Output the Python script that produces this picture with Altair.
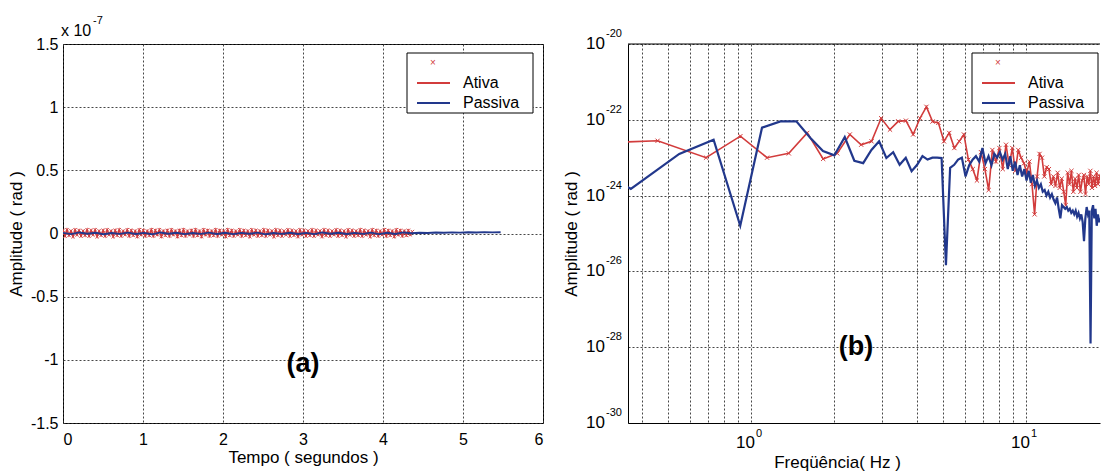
import altair as alt
import pandas as pd

FONT = "Liberation Sans"
RED = "#d23c3c"
BLUE = "#22388c"
GRID = "#333333"

# ---------------- data ----------------
series_names = ["Ativa", "Passiva"]

# panel (a): time signals, amplitude in units of 1e-7 rad
ativa_dt = 0.0251
ativa_amp = [0.025, -0.02, 0.03, -0.015, 0.02, -0.025, 0.03, -0.01, 0.025, -0.02,
             0.02, -0.015, 0.03, -0.02, 0.025, -0.01, 0.03, -0.025, 0.02, -0.015,
             0.025, -0.02, 0.03, -0.01, 0.02, -0.025, 0.025, -0.015, 0.03, -0.02,
             0.02, -0.01, 0.03, -0.02, 0.025, -0.015, 0.02, -0.025, 0.03, -0.01,
             0.025, -0.02, 0.02, -0.015, 0.03, -0.02, 0.025, -0.01, 0.03, -0.025,
             0.02, -0.015, 0.025, -0.02, 0.03, -0.01, 0.02, -0.025, 0.025, -0.015,
             0.03, -0.02, 0.02, -0.01, 0.025, -0.02, 0.03, -0.015, 0.02, -0.025,
             0.03, -0.01, 0.025, -0.02, 0.02, -0.015, 0.03, -0.02, 0.025, -0.01,
             0.02, -0.025, 0.03, -0.015, 0.025, -0.02, 0.02, -0.01, 0.03, -0.02,
             0.025, -0.015, 0.02, -0.025, 0.03, -0.01, 0.025, -0.02, 0.02, -0.015,
             0.03, -0.02, 0.025, -0.01, 0.02, -0.025, 0.03, -0.015, 0.025, -0.02,
             0.02, -0.01, 0.03, -0.02, 0.025, -0.015, 0.02, -0.025, 0.03, -0.01,
             0.025, -0.02, 0.02, -0.015, 0.03, -0.02, 0.025, -0.01, 0.02, -0.025,
             0.03, -0.015, 0.025, -0.02, 0.02, -0.01, 0.03, -0.02, 0.025, -0.015,
             0.02, -0.025, 0.03, -0.01, 0.025, -0.02, 0.02, -0.015, 0.03, -0.02,
             0.025, -0.01, 0.02, -0.025, 0.03, -0.015, 0.025, -0.02, 0.02, -0.01,
             0.03, -0.02, 0.025, -0.015, 0.02, -0.025, 0.03, -0.01, 0.025, -0.02,
             0.02, -0.015, 0.025, -0.01, 0.015]
passiva_dt = 0.1013
passiva_amp = [0.005, -0.005, 0.008, -0.002, 0.006, -0.006, 0.004, -0.003, 0.007, -0.004,
               0.005, -0.006, 0.008, -0.002, 0.006, -0.005, 0.004, -0.003, 0.007, -0.004,
               0.006, -0.005, 0.005, -0.002, 0.007, -0.006, 0.004, -0.003, 0.006, -0.004,
               0.005, -0.005, 0.008, -0.002, 0.006, -0.004, 0.005, -0.003, 0.007, -0.005,
               0.006, -0.004, 0.008, 0.002, 0.006, 0.004, 0.008, 0.006, 0.009, 0.007,
               0.01, 0.008, 0.011, 0.009, 0.01]

# panel (b): spectra (rad), bins k = 1, 2, ... at k*df
ativa_df = 0.2288
ativa_spec = [2.3e-23, 2.8e-23, 1.0e-23, 3.7e-23, 1.0e-23, 1.3e-23, 4.5e-23, 9.3e-24, 1.3e-23, 4.1e-23,
              2.2e-23, 2.7e-23, 1.1e-22, 5.5e-23, 9.1e-23, 9.5e-23, 4.1e-23, 1.1e-22, 2.2e-22, 9.0e-23,
              8.3e-23, 2.7e-23, 4.5e-23, 1.8e-23, 2.7e-23, 4.1e-23, 8.9e-24, 5.0e-24, 2.5e-24, 1.4e-23,
              5.0e-24, 1.4e-24, 1.6e-23, 7.9e-24, 1.8e-23, 5.0e-24, 2.2e-23, 6.3e-24, 1.8e-23, 4.5e-24,
              1.6e-23, 1.0e-23, 7.1e-24, 4.0e-24, 7.9e-24, 2.0e-24, 3.2e-25, 3.2e-24, 1.26e-23, 1.0e-23,
              3.2e-24, 5.6e-24, 5.0e-24, 2.0e-24, 3.2e-24, 1.8e-24, 4.0e-24, 1.6e-24, 2.8e-24, 1.26e-24,
              5.6e-25, 4.0e-24, 2.0e-24, 4.5e-24, 1.26e-24, 2.8e-24, 1.6e-24, 3.5e-24, 1.26e-24, 2.5e-24,
              3.5e-24, 1.1e-24, 3.2e-24, 2.0e-24, 4.5e-24, 1.6e-24, 3.2e-24, 1.8e-24, 4.0e-24, 2.0e-24,
              3.2e-24, 2.5e-24]
passiva_df = 0.1828
passiva_spec = [3.2e-23, 1.5e-24, 1.26e-23, 3.0e-23, 1.6e-25, 6.2e-23, 9.1e-23, 9.1e-23, 3.3e-23, 1.5e-23,
                1.15e-23, 3.5e-23, 8.3e-24, 7.2e-24, 1.6e-23, 2.7e-23, 9.8e-24, 1.4e-23, 6.5e-24, 1.0e-23,
                4.4e-24, 6.5e-24, 1.1e-23, 8.9e-24, 1.0e-23, 1.0e-23, 9.8e-24, 1.45e-26, 5.4e-24, 6.5e-24,
                8.9e-24, 1.0e-23, 3.2e-24, 6.3e-24, 8.9e-24, 1.1e-23, 7.9e-24, 1.8e-23, 7.1e-24, 1.1e-23,
                6.3e-24, 1.26e-23, 1.0e-23, 1.4e-23, 8.9e-24, 1.26e-23, 5.0e-24, 1.1e-23, 4.5e-24, 7.9e-24,
                3.5e-24, 6.3e-24, 3.2e-24, 5.0e-24, 2.5e-24, 4.5e-24, 2.2e-24, 3.5e-24, 1.8e-24, 2.5e-24,
                1.6e-24, 2.0e-24, 1.26e-24, 1.4e-24, 1.0e-24, 1.26e-24, 8.9e-25, 1.1e-24, 7.9e-25, 6.3e-25,
                8.9e-25, 4.5e-25, 2.5e-25, 5.6e-25, 5.0e-25, 4.5e-25, 5.0e-25, 4.0e-25, 4.5e-25, 3.5e-25,
                4.0e-25, 3.2e-25, 4.0e-25, 2.8e-25, 3.5e-25, 2.5e-25, 3.2e-25, 2.0e-25, 6.3e-26, 2.5e-25,
                5.0e-25, 3.2e-25, 4.0e-25, 1.26e-28, 4.0e-25, 5.6e-25, 2.5e-25, 4.5e-25, 1.6e-25, 3.2e-25,
                2.0e-25, 2.5e-25]

time_ticks = [0, 1, 2, 3, 4, 5, 6]
amp_ticks = [-1.5, -1, -0.5, 0, 0.5, 1, 1.5]
freq_grid = [0.4, 0.5, 0.6, 0.7, 0.8, 0.9, 1, 2, 3, 4, 5, 6, 7, 8, 9, 10]
freq_label_pos = [1, 10]
freq_label_exp = ["0", "1"]
spec_ticks = [1e-30, 1e-28, 1e-26, 1e-24, 1e-22, 1e-20]
spec_tick_exp = ["-30", "-28", "-26", "-24", "-22", "-20"]

# ---------------- tables ----------------
a_ativa = pd.DataFrame({"t": [round(i * ativa_dt, 4) for i in range(len(ativa_amp))],
                        "amp": ativa_amp, "serie": "Ativa"})
a_passiva = pd.DataFrame({"t": [round(i * passiva_dt, 4) for i in range(len(passiva_amp))],
                          "amp": passiva_amp, "serie": "Passiva"})
b_ativa = pd.DataFrame({"f": [round((k + 1) * ativa_df, 4) for k in range(len(ativa_spec))],
                        "amp": ativa_spec, "serie": "Ativa"})
b_passiva = pd.DataFrame({"f": [round((k + 1) * passiva_df, 4) for k in range(len(passiva_spec))],
                          "amp": passiva_spec, "serie": "Passiva"})
ylab_df = pd.DataFrame({"amp": spec_ticks, "exp": spec_tick_exp})
xlab_df = pd.DataFrame({"f": freq_label_pos, "exp": freq_label_exp})
one = pd.DataFrame({"k": [0]})

W1, W2, H = 480, 472, 379
LEGX, LEGY, LEGW, LEGH = 344, 9, 126, 60

XSHAPE = "M-1,-1L1,1M-1,1L1,-1"


def legend():
    return alt.Legend(
        title="\u00a0", orient="none", legendX=LEGX, legendY=LEGY,
        direction="vertical", symbolType="stroke", symbolSize=1089, symbolStrokeWidth=2,
        symbolOffset=4,
        labelFont=FONT, labelFontSize=16, labelColor="black", labelOffset=12, labelLimit=300,
        titleFont=FONT, titleFontSize=10, titleColor=RED, titleFontWeight="normal",
        titlePadding=9, padding=5, strokeColor="transparent", fillColor="transparent",
        rowPadding=4, clipHeight=12,
    )


def color_enc():
    return alt.Color("serie:N", scale=alt.Scale(domain=series_names, range=[RED, BLUE]),
                     legend=legend())


def legend_box():
    return alt.Chart(one).mark_rect(fill="white", stroke="black", strokeWidth=1).encode(
        x=alt.value(LEGX), x2=alt.value(LEGX + LEGW), y=alt.value(LEGY), y2=alt.value(LEGY + LEGH))


def legend_marker():
    return alt.Chart(one).mark_text(font=FONT, fontSize=10, align="center", baseline="middle",
                                    color=RED).encode(
        x=alt.value(LEGX + 26), y=alt.value(LEGY + 10), text=alt.value("\u00d7"))


common_axis = dict(labelFont=FONT, labelFontSize=16, labelColor="black", ticks=False,
                   grid=True, gridColor=GRID, gridDash=[2, 2], gridWidth=1, gridOpacity=0.9,
                   titleFont=FONT, titleFontSize=17, titleFontWeight="normal", titleColor="black",
                   titleBaseline="middle", titleAlign="center")

# ---------------- panel (a) ----------------
xa = alt.X("t:Q", scale=alt.Scale(domain=[0, 6], nice=False, zero=False),
           axis=alt.Axis(values=time_ticks, labelExpr="'' + datum.value", labelPadding=8,
                         domain=False, title="Tempo ( segundos )", titleX=W1 / 2, titleY=34,
                         **common_axis))
ya = alt.Y("amp:Q", scale=alt.Scale(domain=[-1.5, 1.5], nice=False, zero=False),
           axis=alt.Axis(values=amp_ticks, labelExpr="'' + datum.value", labelPadding=5,
                         domain=False, title="Amplitude ( rad )", titleX=-47, titleY=H / 2,
                         titleAngle=-90, **common_axis))

a_red = alt.Chart(a_ativa).mark_line(strokeWidth=1.5, clip=True).encode(
    x=xa, y=ya, color=color_enc())
a_red_pts = alt.Chart(a_ativa).mark_point(shape=XSHAPE, filled=False, size=12, strokeWidth=1,
                                          color=RED, opacity=0.9, clip=True).encode(x="t:Q", y="amp:Q")
a_blue = alt.Chart(a_passiva).mark_line(strokeWidth=1.8, clip=True).encode(
    x="t:Q", y="amp:Q", color=color_enc())
a_mult = alt.Chart(one).mark_text(font=FONT, fontSize=16, align="left", baseline="middle",
                                  color="black").encode(
    x=alt.value(-2), y=alt.value(-13), text=alt.value("x 10"))
a_mult_exp = alt.Chart(one).mark_text(font=FONT, fontSize=11, align="left", baseline="middle",
                                      color="black").encode(
    x=alt.value(30), y=alt.value(-23), text=alt.value("-7"))
a_tag = alt.Chart(pd.DataFrame({"t": [3.0], "amp": [-1.03], "tag": ["(a)"]})).mark_text(
    font=FONT, fontSize=27, fontWeight="bold", baseline="middle", align="center",
    color="black").encode(x="t:Q", y="amp:Q", text="tag:N")

left = alt.layer(a_red, a_red_pts, a_blue, a_mult, a_mult_exp, a_tag,
                 legend_box(), legend_marker()).properties(
    width=W1, height=H, view=alt.ViewBackground(stroke="black", strokeWidth=1))

# ---------------- panel (b) ----------------
fmin, fmax = 0.357, 18.6
xb = alt.X("f:Q", scale=alt.Scale(type="log", domain=[fmin, fmax], nice=False),
           axis=alt.Axis(values=freq_grid, labels=False, domain=True, domainColor="black",
                         domainWidth=1, title="Freqüência( Hz )", titleX=209, titleY=39,
                         **common_axis))
yb = alt.Y("amp:Q", scale=alt.Scale(type="log", domain=[1e-30, 1e-20], nice=False),
           axis=alt.Axis(values=spec_ticks, labels=False, domain=True, domainColor="black",
                         domainWidth=1, title="Amplitude ( rad )", titleX=-57, titleY=H / 2,
                         titleAngle=-90, **common_axis))

b_red = alt.Chart(b_ativa).mark_line(strokeWidth=1.6, clip=True).encode(
    x=xb, y=yb, color=color_enc())
b_red_pts = alt.Chart(b_ativa).mark_point(shape=XSHAPE, filled=False, size=18, strokeWidth=1,
                                          color=RED, opacity=1, clip=True).encode(x="f:Q", y="amp:Q")
b_blue = alt.Chart(b_passiva).mark_line(strokeWidth=2.2, clip=True).encode(
    x="f:Q", y="amp:Q", color=color_enc())
b_top = alt.Chart(one).mark_rule(color="black", strokeWidth=1).encode(
    x=alt.value(0), x2=alt.value(W2), y=alt.value(0))
b_ylab = alt.Chart(ylab_df).mark_text(font=FONT, fontSize=17, align="right", baseline="middle",
                                      color="black").encode(
    x=alt.value(-23), y="amp:Q", text=alt.value("10"))
b_ylab_exp = alt.Chart(ylab_df).mark_text(font=FONT, fontSize=11, align="left", baseline="middle",
                                          dy=-10, color="black").encode(
    x=alt.value(-22), y="amp:Q", text="exp:N")
b_xlab = alt.Chart(xlab_df).mark_text(font=FONT, fontSize=17, align="right", baseline="middle",
                                      dx=4, color="black").encode(
    x="f:Q", y=alt.value(H + 20), text=alt.value("10"))
b_xlab_exp = alt.Chart(xlab_df).mark_text(font=FONT, fontSize=11, align="left", baseline="middle",
                                          dx=5, color="black").encode(
    x="f:Q", y=alt.value(H + 11), text="exp:N")
b_tag = alt.Chart(pd.DataFrame({"f": [2.41], "amp": [1e-28], "tag": ["(b)"]})).mark_text(
    font=FONT, fontSize=27, fontWeight="bold", baseline="middle", align="center",
    color="black").encode(x="f:Q", y="amp:Q", text="tag:N")

right = alt.layer(b_red, b_red_pts, b_blue, b_top, b_ylab, b_ylab_exp, b_xlab, b_xlab_exp,
                  b_tag, legend_box(), legend_marker()).properties(
    width=W2, height=H, view=alt.ViewBackground(stroke="transparent"))

chart = alt.hconcat(left, right, spacing=85, bounds="flush").resolve_scale(
    color="independent", x="independent", y="independent").resolve_legend(
    color="independent").properties(
    padding={"left": 6, "top": 14, "right": 0, "bottom": 0}, background="white")

chart.save("out.html", embed_options={"renderer": "svg", "actions": False})
